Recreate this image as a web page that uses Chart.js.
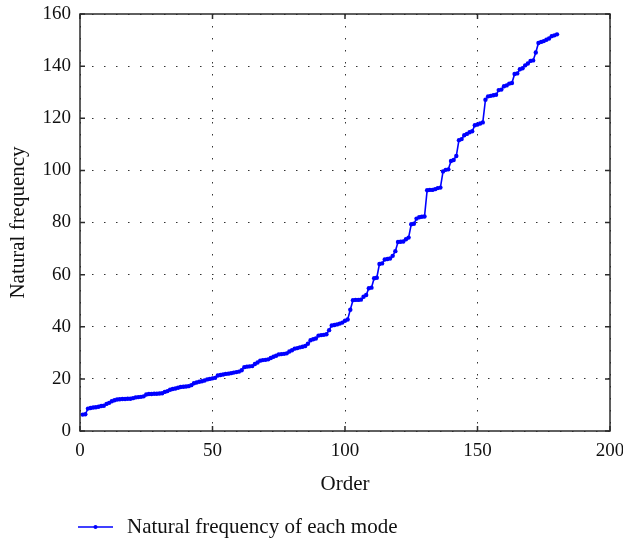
<!DOCTYPE html>
<html>
<head>
<meta charset="utf-8">
<script src="https://cdn.jsdelivr.net/npm/chart.js@4/dist/chart.umd.min.js"></script>
<style>
  body { margin: 0; background: #fff; }
  canvas { display: block; }
</style>
</head>
<body>
<canvas id="myChart" width="623" height="542"></canvas>
<script>
// natural frequency of each mode (order 1..180)
const freqs = [
  6.3, 6.4, 8.6, 8.8, 9.0, 9.1, 9.3, 9.6, 9.7, 10.4,
  10.8, 11.4, 11.8, 12.1, 12.2, 12.3, 12.3, 12.4, 12.4, 12.6,
  12.9, 13.0, 13.1, 13.3, 14.0, 14.2, 14.2, 14.3, 14.3, 14.4,
  14.5, 15.0, 15.3, 15.8, 16.1, 16.3, 16.6, 16.9, 17.0, 17.1,
  17.2, 17.6, 18.3, 18.6, 18.9, 19.1, 19.4, 19.8, 20.0, 20.2,
  20.4, 21.3, 21.5, 21.7, 21.9, 22.0, 22.2, 22.4, 22.6, 22.8,
  23.3, 24.5, 24.7, 24.8, 24.9, 25.7, 26.3, 27.0, 27.2, 27.3,
  27.5, 28.0, 28.5, 28.9, 29.4, 29.5, 29.6, 29.8, 30.5, 31.0,
  31.6, 31.8, 32.1, 32.3, 32.6, 33.5, 34.8, 35.2, 35.5, 36.6,
  36.8, 36.9, 37.1, 38.7, 40.5, 40.7, 40.9, 41.2, 41.6, 42.3,
  42.8, 46.5, 50.2, 50.3, 50.3, 50.4, 51.5, 52.2, 54.8, 55.0,
  58.6, 58.8, 64.1, 64.3, 65.8, 66.0, 66.2, 67.2, 69.0, 72.5,
  72.6, 72.7, 73.6, 74.2, 79.3, 79.5, 81.5, 82.0, 82.2, 82.3,
  92.4, 92.5, 92.5, 92.8, 93.2, 93.4, 99.6, 100.2, 100.4, 103.6,
  104.0, 105.5, 111.6, 112.0, 113.5, 114.0, 114.6, 115.0, 117.3, 117.6,
  118.0, 118.4, 127.1, 128.4, 128.6, 128.8, 129.0, 130.8, 131.0, 132.3,
  132.6, 133.3, 133.5, 137.0, 137.2, 138.8, 139.2, 140.3, 141.0, 142.0,
  142.2, 145.2, 148.9, 149.3, 149.6, 150.1, 150.6, 151.5, 151.8, 152.2
];
const orders = freqs.map((f, i) => i + 1);

const xTicks = [0, 50, 100, 150, 200];
const yTicks = [0, 20, 40, 60, 80, 100, 120, 140, 160];

const seriesName = 'Natural frequency of each mode';
const xTitle = 'Order';
const yTitle = 'Natural frequency';

const FONT = "'Liberation Serif', 'Times New Roman', serif";
const BLUE = 'rgb(0, 0, 255)';

const points = [];
for (let i = 0; i < freqs.length; i++) {
  points.push({x: orders[i], y: freqs[i]});
}

// box round the plot, with ticks pointing inwards on all four sides
const framePlugin = {
  id: 'frame',
  afterDraw(chart) {
    const ctx = chart.ctx;
    const a = chart.chartArea;
    const xs = chart.scales.x;
    const ys = chart.scales.y;
    ctx.save();
    ctx.strokeStyle = '#2b2b2b';
    ctx.lineWidth = 1.5;
    ctx.strokeRect(a.left, a.top, a.right - a.left, a.bottom - a.top);
    ctx.beginPath();
    xTicks.forEach(v => {
      const px = xs.getPixelForValue(v);
      ctx.moveTo(px, a.bottom); ctx.lineTo(px, a.bottom - 5);
      ctx.moveTo(px, a.top); ctx.lineTo(px, a.top + 5);
    });
    yTicks.forEach(v => {
      const py = ys.getPixelForValue(v);
      ctx.moveTo(a.left, py); ctx.lineTo(a.left + 5, py);
      ctx.moveTo(a.right, py); ctx.lineTo(a.right - 5, py);
    });
    ctx.stroke();

    // legend below the axis title
    const ly = 527;
    const lx = a.left - 2;
    ctx.strokeStyle = BLUE;
    ctx.lineWidth = 1.5;
    ctx.beginPath();
    ctx.moveTo(lx, ly); ctx.lineTo(lx + 35, ly);
    ctx.stroke();
    ctx.fillStyle = BLUE;
    ctx.beginPath();
    ctx.arc(lx + 17.5, ly, 2, 0, Math.PI * 2);
    ctx.fill();
    ctx.fillStyle = '#111';
    ctx.font = '21px ' + FONT;
    ctx.textBaseline = 'middle';
    ctx.fillText(seriesName, lx + 49, ly);
    ctx.restore();
  }
};

const config = {
  type: 'line',
  data: {
    datasets: [{
      label: seriesName,
      data: points,
      borderColor: BLUE,
      backgroundColor: BLUE,
      borderWidth: 1.6,
      pointRadius: 2.2,
      pointBorderWidth: 0,
      pointBackgroundColor: BLUE,
      tension: 0
    }]
  },
  options: {
    responsive: false,
    animation: false,
    layout: {padding: {top: 14, right: 13, bottom: 41, left: 0}},
    plugins: {
      legend: {display: false},
      tooltip: {enabled: false}
    },
    scales: {
      x: {
        type: 'linear',
        min: 0,
        max: 200,
        afterBuildTicks: s => { s.ticks = xTicks.map(v => ({value: v})); },
        afterFit: s => { s.height = 70; s.paddingLeft = 0; s.paddingRight = 0; },
        ticks: {color: '#111', font: {family: FONT, size: 19}, padding: 9, maxRotation: 0},
        grid: {color: '#333', lineWidth: 1, drawTicks: false},
        border: {display: false, dash: [1.5, 10.5]},
        title: {display: true, text: xTitle, color: '#111', font: {family: FONT, size: 21}, padding: {top: 0, bottom: 4}}
      },
      y: {
        min: 0,
        max: 160,
        afterBuildTicks: s => { s.ticks = yTicks.map(v => ({value: v})); },
        afterFit: s => { s.width = 80; s.paddingTop = 0; s.paddingBottom = 0; },
        ticks: {color: '#111', font: {family: FONT, size: 19}, padding: 9},
        grid: {color: '#333', lineWidth: 1, drawTicks: false},
        border: {display: false, dash: [1.5, 10.5]},
        title: {display: true, text: yTitle, color: '#111', font: {family: FONT, size: 21}, padding: {top: 6, bottom: 0}}
      }
    }
  },
  plugins: [framePlugin]
};

const myChart = new Chart(document.getElementById('myChart'), config);
</script>
</body>
</html>
